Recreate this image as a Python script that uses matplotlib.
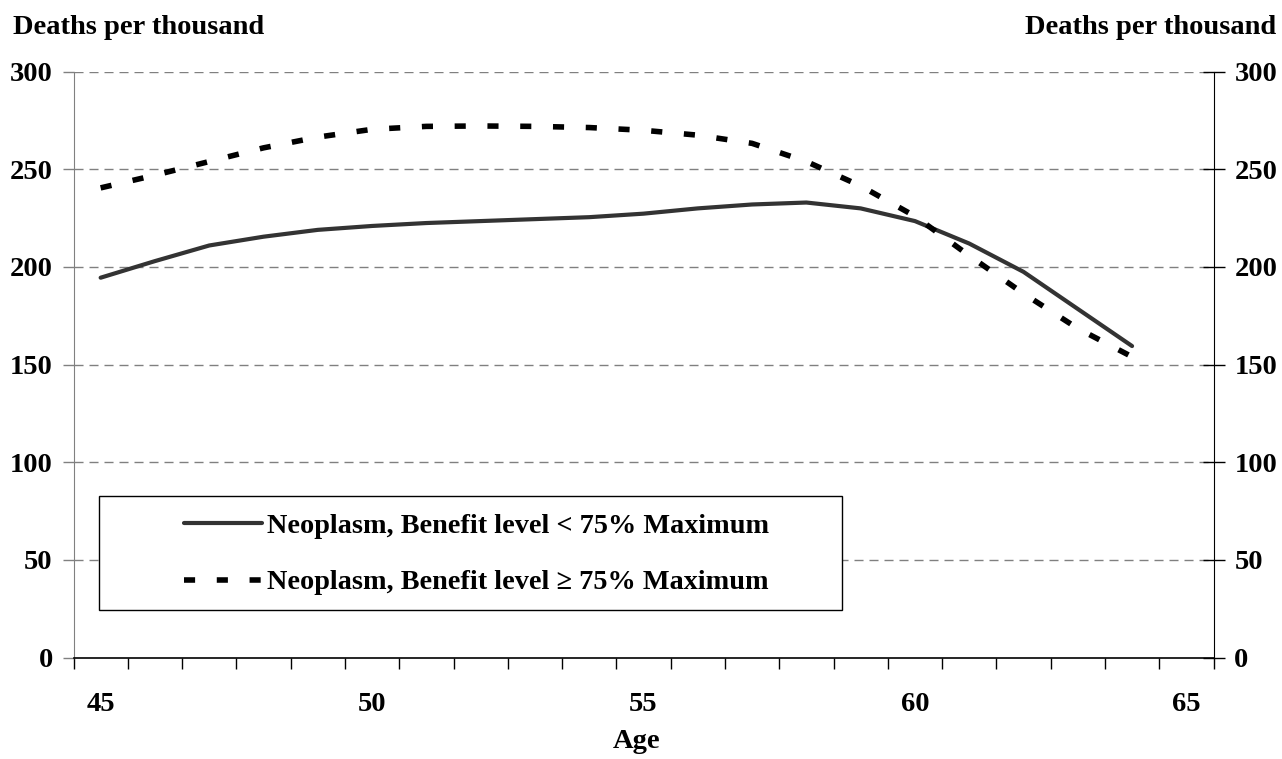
import matplotlib
matplotlib.use("Agg")
import matplotlib.pyplot as plt
from matplotlib.patches import Rectangle
import numpy as np

plt.rcParams['font.family'] = ['Liberation Serif', 'DejaVu Serif']
plt.rcParams['font.weight'] = 'bold'

ages = list(range(45, 65))
below_75 = [194.5, 203, 211, 215.5, 219, 221, 222.5, 223.5, 224.5, 225.5,
            227.3, 230, 232, 233, 230, 223.5, 212, 197.5, 178.5, 159.5]
above_75 = [240.5, 247, 254, 261, 266.5, 270.5, 272, 272.2, 272, 271.4,
            270, 267.5, 263.3, 254, 241.5, 226, 205.8, 186.4, 168.5, 154]
xtick_labels = [45, 50, 55, 60, 65]
ytick_values = [0, 50, 100, 150, 200, 250, 300]
label_below = "Neoplasm, Benefit level < 75% Maximum"
label_above = "Neoplasm, Benefit level \u2265 75% Maximum"

W, H = 1282, 759
fig = plt.figure(figsize=(W / 100, H / 100), dpi=100)
L, R, T, B = 73.5, 1213.5, 71.7, 657.5
ax = fig.add_axes([L / W, 1 - B / H, (R - L) / W, (B - T) / H])

ax.set_xlim(44.5, 65.5)
ax.set_ylim(0, 300)

# gridlines
for v in ytick_values[1:]:
    ax.axhline(v, color='#808080', lw=1.0, dashes=(6.5, 4.3), zorder=1)

l1, = ax.plot(ages, below_75, color='#333333', lw=3.0, solid_joinstyle='round',
              solid_capstyle='round', zorder=3)
l2, = ax.plot(ages, above_75, color='black', lw=4.0, linestyle=(0, (2.0, 3.9)),
              zorder=3)

fs = 20.5
# x axis ticks at category boundaries
ax.set_xticks(np.arange(44.5, 66, 1.0))
ax.set_xticklabels([])
ax.set_xticks(xtick_labels, minor=True)
ax.set_xticklabels([str(v) for v in xtick_labels], minor=True, fontsize=fs, fontweight='bold')
ax.tick_params(axis='x', which='major', direction='out', length=8, width=1, color='black')
ax.tick_params(axis='x', which='minor', length=0, pad=25)

ax.set_yticks(ytick_values)
ax.set_yticklabels([str(v) for v in ytick_values], fontsize=fs, fontweight='bold')
ax.tick_params(axis='y', direction='out', length=8, width=1, color='#808080', pad=7)

for s in ['top', 'right']:
    ax.spines[s].set_visible(False)
ax.spines['left'].set_color('#808080')
ax.spines['bottom'].set_color('black')
ax.spines['bottom'].set_linewidth(1.2)

ax2 = ax.twinx()
ax2.set_ylim(0, 300)
ax2.set_yticks(ytick_values)
ax2.set_yticklabels([str(v) for v in ytick_values], fontsize=fs, fontweight='bold')
ax2.tick_params(axis='y', direction='inout', length=16, width=1, color='black', pad=7)
for s in ['top', 'left', 'bottom']:
    ax2.spines[s].set_visible(False)
ax2.spines['right'].set_color('black')

fig.text(637 / W, 1 - 741 / H, "Age", fontsize=fs, fontweight='bold',
         ha='center', va='center')

fig.text(13 / W, 1 - 28 / H, "Deaths per thousand", fontsize=fs, fontweight='bold',
         ha='left', va='center')
fig.text(1276 / W, 1 - 28 / H, "Deaths per thousand", fontsize=fs, fontweight='bold',
         ha='right', va='center')

# legend box
bx0, bx1, by0, by1 = 99, 842, 496, 610
rect = Rectangle((bx0 / W, 1 - by1 / H), (bx1 - bx0) / W, (by1 - by0) / H,
                 transform=fig.transFigure, facecolor='white', edgecolor='black',
                 lw=1.0, zorder=5)
fig.add_artist(rect)
leg = fig.legend([l1, l2], [label_below, label_above],
                 loc='upper left', bbox_to_anchor=(184 / W, 1 - 513 / H),
                 frameon=False, handlelength=2.75, handletextpad=0.18,
                 labelspacing=1.1, borderpad=0, borderaxespad=0,
                 prop={'weight': 'bold', 'size': 20.3})
leg.set_zorder(6)

fig.savefig("out.png", dpi=100)
